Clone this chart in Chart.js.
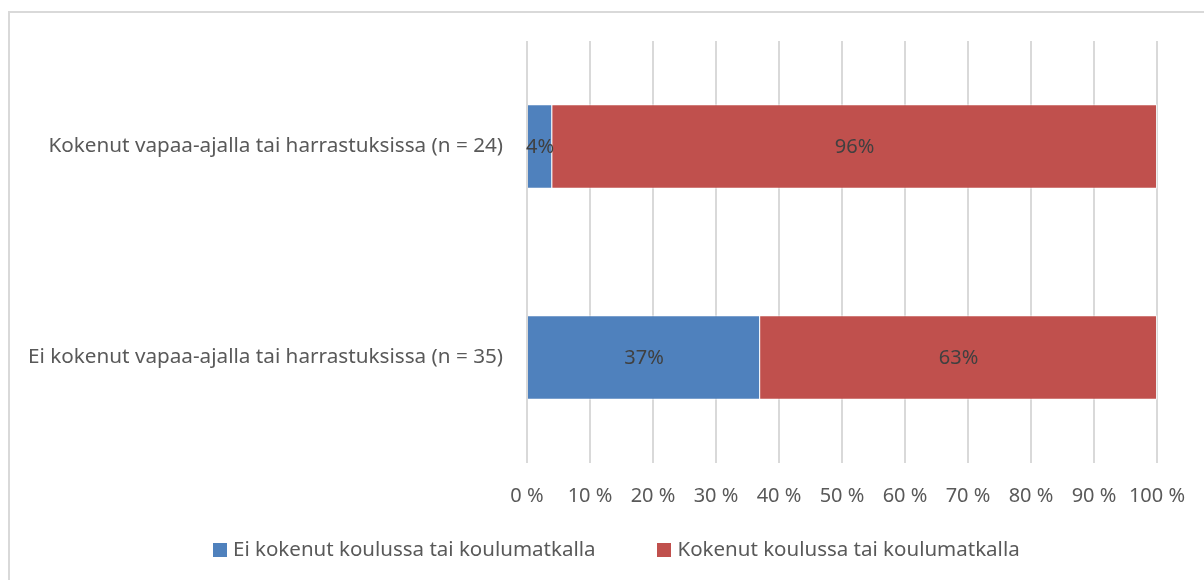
<!DOCTYPE html>
<html>
<head>
<meta charset="utf-8">
<script src="https://cdn.jsdelivr.net/npm/chart.js@4"></script>
<style>
    body { margin: 0; background: #fff; overflow: hidden; font-family: 'Noto Sans', 'Liberation Sans', sans-serif; }
    #kehys { position: absolute; left: 8px; top: 11px; width: 1300px; height: 700px; border: 2px solid #d9d9d9; }
    #kaavio { position: absolute; left: 0; top: 0; }
    #selite { position: absolute; left: 213px; top: 534px; display: flex; gap: 62px; color: #595959; font-size: 20.5px; line-height: 28px; white-space: nowrap; }
    #selite span.laatikko { display: inline-block; width: 14px; height: 14px; margin-right: 6px; vertical-align: -1px; }
</style>
</head>
<body>
<div id="kehys"></div>
<canvas id="kaavio" width="1204" height="580"></canvas>
<div id="selite"></div>
<script>
// Kategoriat (ylhäältä alas)
var ryhmat = ['Kokenut vapaa-ajalla tai harrastuksissa (n = 24)', 'Ei kokenut vapaa-ajalla tai harrastuksissa (n = 35)'];
// Osuudet prosentteina
var eiKoulussa = [4, 37];
var koulussa = [96, 63];
var sarjaNimet = ['Ei kokenut koulussa tai koulumatkalla', 'Kokenut koulussa tai koulumatkalla'];
var akseliArvot = [0, 10, 20, 30, 40, 50, 60, 70, 80, 90, 100];

var fontti = "'Noto Sans', 'Liberation Sans', sans-serif";
var harmaa = '#595959';

// Prosenttiluvut palkkien keskelle
var arvoTekstit = {
    id: 'arvoTekstit',
    afterDatasetsDraw: function (chart) {
        var ctx = chart.ctx;
        ctx.save();
        ctx.font = '20px ' + fontti;
        ctx.fillStyle = '#404040';
        ctx.textAlign = 'center';
        ctx.textBaseline = 'middle';
        chart.data.datasets.forEach(function (ds, i) {
            chart.getDatasetMeta(i).data.forEach(function (palkki, j) {
                var p = palkki.getCenterPoint();
                ctx.fillText(ds.data[j] + '%', p.x, p.y + 1);
            });
        });
        ctx.restore();
    }
};

var kaavio = new Chart(document.getElementById('kaavio').getContext('2d'), {
    type: 'bar',
    data: {
        labels: ryhmat,
        datasets: [
            {
                label: sarjaNimet[0],
                data: eiKoulussa,
                backgroundColor: '#4f81bd',
                borderColor: 'rgba(255,255,255,0.6)',
                borderWidth: 1
            },
            {
                label: sarjaNimet[1],
                data: koulussa,
                backgroundColor: '#c0504d',
                borderColor: 'rgba(255,255,255,0.6)',
                borderWidth: 1
            }
        ]
    },
    options: {
        indexAxis: 'y',
        responsive: false,
        animation: false,
        events: [],
        categoryPercentage: 1,
        barPercentage: 0.4,
        layout: { padding: { left: 0, right: 47, top: 41, bottom: 0 } },
        plugins: {
            tooltip: { enabled: false },
            legend: { display: false }
        },
        scales: {
            x: {
                stacked: true,
                min: 0,
                max: 100,
                afterBuildTicks: function (axis) {
                    axis.ticks = akseliArvot.map(function (v) { return { value: v }; });
                },
                afterFit: function (axis) {
                    axis.height = 117;
                    axis.paddingLeft = 0;
                    axis.paddingRight = 0;
                },
                grid: { color: '#d9d9d9', lineWidth: 2, drawTicks: false },
                border: { display: false },
                ticks: {
                    padding: 21,
                    color: harmaa,
                    font: { size: 20, family: fontti },
                    maxRotation: 0,
                    autoSkip: false,
                    callback: function (v) { return v + ' %'; }
                }
            },
            y: {
                stacked: true,
                afterFit: function (axis) { axis.width = 527; },
                grid: { display: false, drawTicks: false },
                border: { display: false },
                ticks: {
                    padding: 24,
                    color: harmaa,
                    font: { size: 20.7, family: fontti }
                }
            }
        }
    },
    plugins: [arvoTekstit]
});

// Selite HTML:nä sarjojen väreistä ja nimistä
var selite = document.getElementById('selite');
kaavio.data.datasets.forEach(function (ds) {
    var rivi = document.createElement('div');
    var laatikko = document.createElement('span');
    laatikko.className = 'laatikko';
    laatikko.style.background = ds.backgroundColor;
    rivi.appendChild(laatikko);
    rivi.appendChild(document.createTextNode(ds.label));
    selite.appendChild(rivi);
});
</script>
</body>
</html>
